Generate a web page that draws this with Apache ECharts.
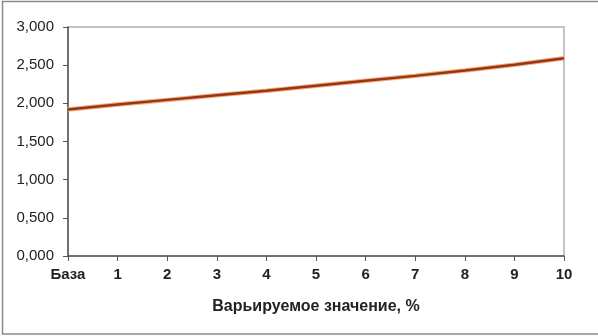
<!DOCTYPE html>
<html><head><meta charset="utf-8">
<script src="https://cdn.jsdelivr.net/npm/echarts@6/dist/echarts.min.js"></script>
<style>html,body{margin:0;padding:0;background:#fff}#c{width:598px;height:336px}</style>
</head><body><div id="c"></div>
<script>
const categories = ['База','1','2','3','4','5','6','7','8','9','10'];
const values = [1.920, 1.985, 2.045, 2.105, 2.165, 2.230, 2.295, 2.360, 2.430, 2.505, 2.590];
const yMin = 0, yMax = 3, yStep = 0.5;
const xTitle = 'Варьируемое значение, %';

const chart = echarts.init(document.getElementById('c'), null, {renderer:'canvas'});
chart.setOption({
  animation:false,
  backgroundColor:'#fff',
  graphic:[{type:'rect',shape:{x:2.5,y:1.5,width:610,height:332.5},style:{fill:'none',stroke:'#8a8a8a',lineWidth:1.5},silent:true}],
  grid:{left:68,right:34,top:27,bottom:80,show:true,borderColor:'#b0b0b0',borderWidth:1.5,backgroundColor:'transparent'},
  xAxis:{type:'category',data:categories,boundaryGap:false,
    name:xTitle,nameLocation:'middle',nameGap:43,
    nameTextStyle:{fontFamily:'Liberation Sans',fontWeight:'bold',fontSize:16,color:'#222'},
    axisLine:{lineStyle:{color:'#555',width:1.5}},
    axisTick:{show:true,inside:false,length:5,lineStyle:{color:'#555'},alignWithLabel:true},
    axisLabel:{fontFamily:'Liberation Sans',fontWeight:'bold',fontSize:15,color:'#222',margin:11},
    splitLine:{show:false}},
  yAxis:{type:'value',min:yMin,max:yMax,interval:yStep,
    axisLine:{show:true,lineStyle:{color:'#555',width:1.5}},
    axisTick:{show:true,length:5,lineStyle:{color:'#555'}},
    axisLabel:{fontFamily:'Liberation Sans',fontSize:15,color:'#222',margin:14,
      formatter:v=>v.toFixed(3).replace('.',',')},
    splitLine:{show:false}},
  series:[
    {type:'line',data:values,symbol:'none',silent:true,z:2,
     lineStyle:{color:'#f0b080',width:4.5}},
    {type:'line',data:values,symbol:'none',silent:true,z:3,
     lineStyle:{color:'#9a3414',width:2.4}}
  ]
});
</script></body></html>
